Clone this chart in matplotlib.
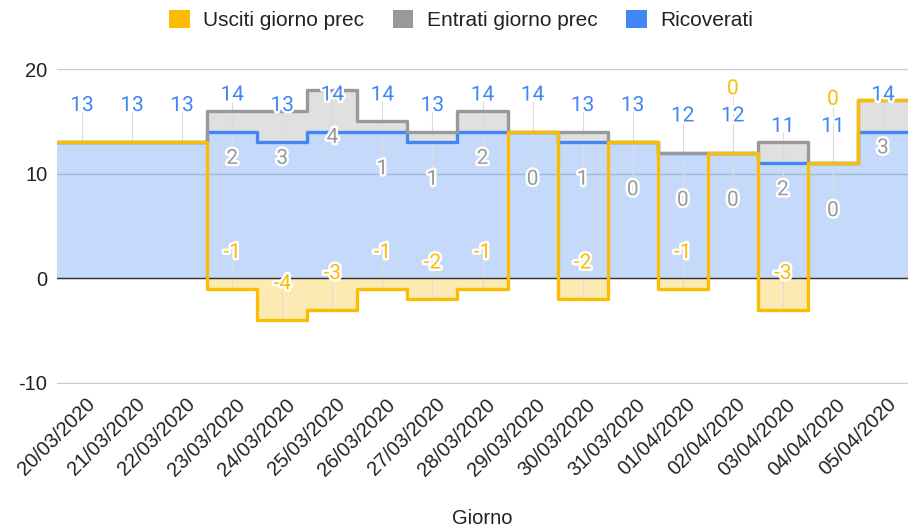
import matplotlib.pyplot as plt
import matplotlib.patheffects as pe
import matplotlib.transforms as mtransforms
from matplotlib.patches import Patch
import numpy as np

plt.rcParams['font.family'] = ['Liberation Sans', 'DejaVu Sans']
plt.rcParams['axes.unicode_minus'] = False

# dati
giorni = ['20/03/2020', '21/03/2020', '22/03/2020', '23/03/2020', '24/03/2020',
          '25/03/2020', '26/03/2020', '27/03/2020', '28/03/2020', '29/03/2020',
          '30/03/2020', '31/03/2020', '01/04/2020', '02/04/2020', '03/04/2020',
          '04/04/2020', '05/04/2020']
ricoverati = [13, 13, 13, 14, 13, 14, 14, 13, 14, 14, 13, 13, 12, 12, 11, 11, 14]
entrati = [None, None, None, 2, 3, 4, 1, 1, 2, 0, 1, 0, 0, 0, 2, 0, 3]
usciti = [None, None, None, -1, -4, -3, -1, -2, -1, None, -2, None, -1, 0, -3, 0, None]

BLU = '#4285F4'
GRIGIO = '#999999'
GIALLO = '#FBBC04'

R = np.array(ricoverati, dtype=float)
E = np.array([np.nan if v is None else v for v in entrati])
U = np.array([np.nan if v is None else v for v in usciti])

x = np.arange(len(giorni))
edges = np.arange(len(giorni) + 1) - 0.5

# serie impilate (i negativi sotto lo zero)
top_grigio = R + np.nan_to_num(E)
u0 = np.nan_to_num(U)
neg = np.minimum(u0, 0)
linea_gialla = np.where(u0 < 0, u0, top_grigio + u0)

fig, ax = plt.subplots(figsize=(9.08, 5.29), dpi=100)
fig.subplots_adjust(left=57/908, right=1.0, bottom=1-383.5/529, top=1-68.5/529)

# aree
ax.stairs(R, edges, baseline=0, fill=True, color=BLU, alpha=0.3, lw=0, zorder=1)
ax.stairs(top_grigio, edges, baseline=R, fill=True, color=GRIGIO, alpha=0.3, lw=0, zorder=1)
ax.stairs(neg, edges, baseline=0, fill=True, color=GIALLO, alpha=0.3, lw=0, zorder=1)

# linee a gradino
for vals, c in [(R, BLU), (top_grigio, GRIGIO), (linea_gialla, GIALLO)]:
    s = ax.stairs(vals, edges, baseline=None, color=c, lw=2.4, zorder=4)
    s.set_joinstyle('round')
    s.set_capstyle('round')

# etichette dei valori
halo = [pe.withStroke(linewidth=3.5, foreground='white')]
fs_lab = 15
dy_txt = 0.71  # da centro cifra a baseline


def etichetta(i, y_punto, y_lab, testo, colore):
    if y_lab > y_punto:
        ax.plot([i, i], [y_punto, y_lab - 0.85], color='#dcdcdc', lw=0.8, zorder=2)
    else:
        ax.plot([i, i], [y_punto, y_lab + 0.85], color='#dcdcdc', lw=0.8, zorder=2)
    ax.text(i, y_lab - dy_txt, testo, color=colore, ha='center', va='baseline',
            fontsize=fs_lab, family=['Roboto', 'DejaVu Sans'], path_effects=halo, zorder=6)


for i in x:
    etichetta(i, R[i], R[i] + 3.7, '%d' % R[i], BLU)
    if not np.isnan(E[i]):
        etichetta(i, top_grigio[i], top_grigio[i] - 4.35, '%d' % E[i], GRIGIO)
    if not np.isnan(U[i]):
        if U[i] < 0:
            etichetta(i, U[i], U[i] + 3.65, '%d' % U[i], GIALLO)
        else:
            etichetta(i, linea_gialla[i], linea_gialla[i] + 6.3, '%d' % U[i], GIALLO)

# assi
ax.set_xlim(-0.5, len(giorni) - 0.5)
ax.set_ylim(-10.05, 20.05)
ax.set_yticks([-10, 0, 10, 20])
ax.yaxis.grid(True, color='#cccccc', lw=1)
ax.set_axisbelow(True)
ax.axhline(0, color='#333333', lw=1, zorder=3)
for sp in ax.spines.values():
    sp.set_visible(False)
ax.tick_params(axis='y', length=0, pad=7, labelsize=14.5, labelcolor='#222222')
ax.set_xticks(x)
ax.set_xticklabels(giorni, rotation=45, ha='right', va='center', rotation_mode='anchor',
                   fontsize=14.5, color='#222222')
ax.tick_params(axis='x', length=0, pad=13)
sposta = mtransforms.ScaledTranslation(0.10, 0, fig.dpi_scale_trans)
for lab in ax.get_xticklabels():
    lab.set_transform(lab.get_transform() + sposta)

fig.text(482/908, 1 - 519/529, 'Giorno', ha='center', va='center', fontsize=14.5, color='#222222')

# legenda
maniglie = [Patch(facecolor=GIALLO, label='Usciti giorno prec'),
            Patch(facecolor=GRIGIO, label='Entrati giorno prec'),
            Patch(facecolor=BLU, label='Ricoverati')]
fig.legend(handles=maniglie, loc='center', bbox_to_anchor=(461/908, 1 - 20/529), ncol=3,
           frameon=False, fontsize=15, handlelength=1.0, handleheight=1.0,
           handletextpad=0.65, columnspacing=1.35, labelcolor='#222222')

fig.savefig('out.png', dpi=100)
